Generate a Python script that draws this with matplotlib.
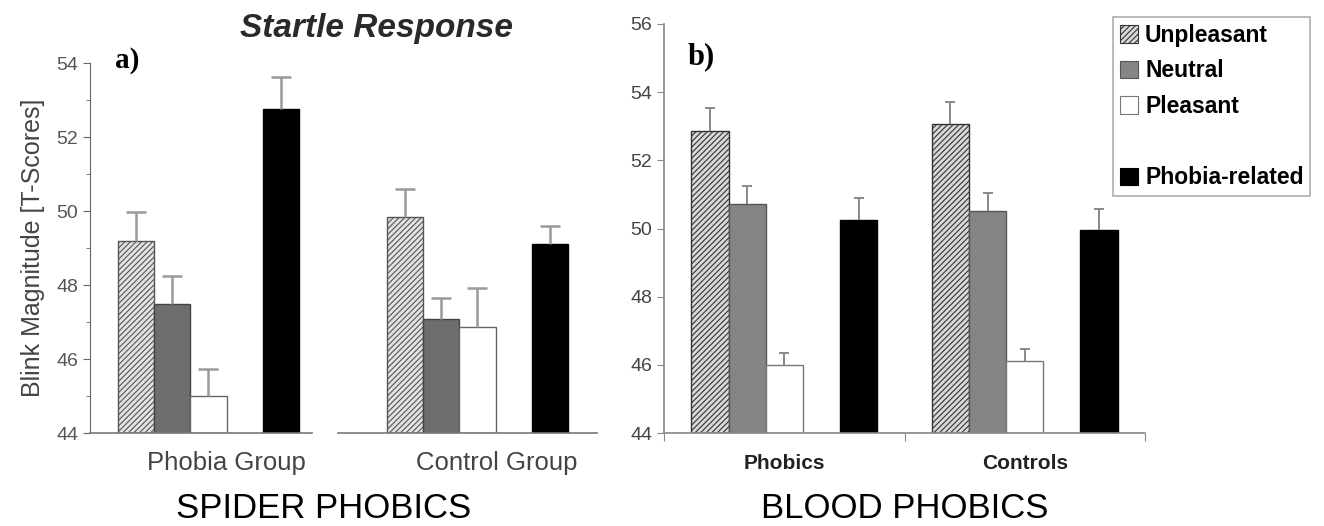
import matplotlib
matplotlib.use("Agg")
import matplotlib.pyplot as plt
from matplotlib.patches import Patch
import numpy as np

# condition order used in both panels
conditions = ["Unpleasant", "Neutral", "Pleasant", "Phobia-related"]
slots = [0, 1, 2, 4]  # phobia-related sits one slot apart

# a) spider phobics, startle blink magnitude (T-scores)
spider_groups = ["Phobia Group", "Control Group"]
spider_phobia_mean = [49.2, 47.5, 45.0, 52.75]
spider_phobia_se = [0.77, 0.75, 0.72, 0.88]
spider_control_mean = [49.83, 47.09, 46.87, 49.12]
spider_control_se = [0.76, 0.56, 1.06, 0.48]

# b) blood phobics
blood_groups = ["Phobics", "Controls"]
blood_phobic_mean = [52.86, 50.73, 45.99, 50.25]
blood_phobic_se = [0.67, 0.51, 0.35, 0.64]
blood_control_mean = [53.07, 50.51, 46.12, 49.97]
blood_control_se = [0.65, 0.52, 0.33, 0.61]

plt.rcParams["font.family"] = ["Liberation Sans", "DejaVu Sans"]
plt.rcParams["hatch.linewidth"] = 0.8

W, H = 1324, 526
fig = plt.figure(figsize=(W / 100, H / 100), dpi=100)


def px_box(x0, x1, y_top, y_bot):
    return [x0 / W, 1 - y_bot / H, (x1 - x0) / W, (y_bot - y_top) / H]


def up_errorbar(ax, xs, ys, err, **kw):
    # only the upper half of the error bar, like the original
    _, caps, _ = ax.errorbar(xs, ys, yerr=[np.zeros_like(err), err], fmt="none", **kw)
    caps[0].set_visible(False)


# ---- panel a: two side-by-side axes with a broken baseline ----
a_styles = [
    dict(color="#e2e2e2", edgecolor="#555555", hatch="//////"),
    dict(color="#6e6e6e", edgecolor="#444444"),
    dict(color="white", edgecolor="#666666"),
    dict(color="black", edgecolor="black"),
]
ax1 = fig.add_axes(px_box(90, 312, 63, 433))
ax2 = fig.add_axes(px_box(338, 597, 63, 433), sharey=ax1)

for ax, means, ses, xlim, label, lx in [
    (ax1, spider_phobia_mean, spider_phobia_se, (-1.27, 4.86), spider_groups[0], 226),
    (ax2, spider_control_mean, spider_control_se, (-1.85, 5.3), spider_groups[1], 497),
]:
    for s, m, st in zip(slots, means, a_styles):
        ax.bar(s, m - 44, bottom=44, width=1.0, linewidth=1.0, **st)
    up_errorbar(ax, np.array(slots), np.array(means), np.array(ses),
                ecolor="#9a9a9a", elinewidth=1.8, capsize=7, capthick=1.8)
    ax.set_xlim(*xlim)
    ax.set_xticks([])
    for sp in ["top", "right"]:
        ax.spines[sp].set_visible(False)
    ax.spines["bottom"].set_color("#777777")
    ax.spines["bottom"].set_linewidth(1.2)
    fig.text(lx / W, 1 - 463 / H, label, ha="center", va="center",
             fontsize=18.5, color="#444444")

ax1.set_ylim(44, 54)
ax1.set_yticks(np.arange(44, 55, 2))
ax1.set_yticks(np.arange(45, 54, 2), minor=True)
ax1.tick_params(axis="y", which="major", length=5, color="#666666",
                labelsize=14, labelcolor="#555555")
ax1.tick_params(axis="y", which="minor", length=3, color="#666666")
ax1.spines["left"].set_color("#666666")
ax1.set_ylabel("Blink Magnitude [T-Scores]", fontsize=18, color="#444444", labelpad=8)
ax2.spines["left"].set_visible(False)
ax2.tick_params(axis="y", which="both", left=False, labelleft=False)

fig.text(376 / W, 1 - 28 / H, "Startle Response", fontsize=24, fontweight="bold",
         fontstyle="italic", color="#2a2a2a", ha="center", va="center")
fig.text(115 / W, 1 - 60 / H, "a)", fontsize=21, fontweight="bold",
         family="Liberation Serif", ha="left", va="center")
fig.text(324 / W, 1 - 508 / H, "SPIDER PHOBICS", fontsize=25, ha="center", va="center")

# ---- panel b: grouped bars, Excel style ----
b_styles = [
    dict(color="#d8d8d8", edgecolor="#333333", hatch="//////"),
    dict(color="#858585", edgecolor="#555555"),
    dict(color="white", edgecolor="#777777"),
    dict(color="black", edgecolor="black"),
]
axb = fig.add_axes(px_box(664, 1145, 24, 433))
bw = 0.1544
x = np.arange(len(blood_groups))
b_means = np.array([blood_phobic_mean, blood_control_mean])
b_ses = np.array([blood_phobic_se, blood_control_se])
for i, (cond, st) in enumerate(zip(conditions, b_styles)):
    xs = x + (slots[i] - 2) * bw
    axb.bar(xs, b_means[:, i] - 44, bottom=44, width=bw, linewidth=1.0,
            label=cond, **st)
    up_errorbar(axb, xs, b_means[:, i], b_ses[:, i], ecolor="#888888",
                elinewidth=1.4, capsize=3.5, capthick=1.4)

axb.set_xlim(-0.5, 1.5)
axb.set_ylim(44, 56)
axb.set_yticks(np.arange(44, 57, 2))
axb.set_xticks([-0.5, 0.5, 1.5])
axb.set_xticklabels([])
axb.set_xticks(x, minor=True)
axb.set_xticklabels(blood_groups, minor=True, fontsize=15, fontweight="bold",
                    color="#222222")
axb.tick_params(axis="x", which="minor", length=0, pad=15)
axb.tick_params(axis="x", which="major", length=6, color="#888888", direction="out")
axb.tick_params(axis="y", length=5, color="#888888", labelsize=14, labelcolor="#444444")
for sp in ["top", "right"]:
    axb.spines[sp].set_visible(False)
for sp in ["left", "bottom"]:
    axb.spines[sp].set_color("#888888")
    axb.spines[sp].set_linewidth(1.2)

handles = [Patch(facecolor=st["color"], edgecolor=st["edgecolor"],
                 hatch=st.get("hatch"), linewidth=0.8) for st in b_styles]
blank = Patch(facecolor="none", edgecolor="none")
leg = fig.legend(handles[:3] + [blank, handles[3]],
                 conditions[:3] + [" ", conditions[3]],
                 loc="upper left", bbox_to_anchor=(1113 / W, 1 - 17 / H),
                 frameon=True, fancybox=False, edgecolor="#999999",
                 prop=dict(weight="bold", size=16.5), handlelength=0.8,
                 handleheight=0.8, handletextpad=0.3, labelspacing=0.55,
                 borderpad=0.3, borderaxespad=0)
leg.get_frame().set_linewidth(1.2)

fig.text(688 / W, 1 - 57 / H, "b)", fontsize=22, fontweight="bold",
         family="Liberation Serif", ha="left", va="center")
fig.text(905 / W, 1 - 508 / H, "BLOOD PHOBICS", fontsize=25, ha="center", va="center")

fig.savefig("out.png", dpi=100)
